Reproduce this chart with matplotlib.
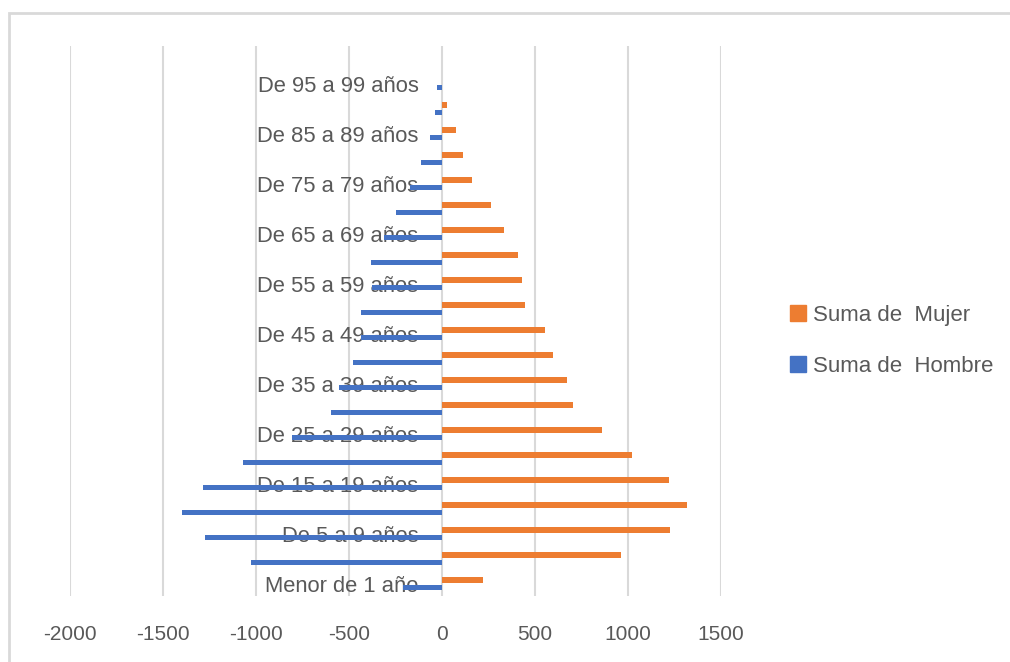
import matplotlib.pyplot as plt
import matplotlib.patches as mpatches
import numpy as np

# age groups, bottom to top (pivot table order)
grupos = ["Menor de 1 año", "De 1 a 4 años", "De 5 a 9 años", "De 10 a 14 años",
          "De 15 a 19 años", "De 20 a 24 años", "De 25 a 29 años", "De 30 a 34 años",
          "De 35 a 39 años", "De 40 a 44 años", "De 45 a 49 años", "De 50 a 54 años",
          "De 55 a 59 años", "De 60 a 64 años", "De 65 a 69 años", "De 70 a 74 años",
          "De 75 a 79 años", "De 80 a 84 años", "De 85 a 89 años", "De 90 a 94 años",
          "De 95 a 99 años", "(en blanco)"]
mujer = [219, 960, 1224, 1318, 1218, 1020, 860, 706, 674, 599, 556,
         445, 430, 411, 333, 264, 162, 112, 76, 27, 0, 0]
hombre = [209, 1029, 1274, 1396, 1287, 1072, 808, 599, 554, 479, 435,
          438, 375, 384, 312, 245, 170, 112, 62, 35, 25, 0]
x_ticks = [-2000, -1500, -1000, -500, 0, 500, 1000, 1500]

c_mujer = "#ED7D31"
c_hombre = "#4472C4"
gris = "#595959"
plt.rcParams['font.family'] = ['Liberation Sans', 'DejaVu Sans']

fig = plt.figure(figsize=(10.1, 6.62), dpi=100)
ax = fig.add_axes([70 / 1010, 1 - 596 / 662, (721 - 70) / 1010, 550 / 662])

# category labels sit next to the zero line, like Excel does
ax.spines['left'].set_position(('data', 0))
for s in ax.spines.values():
    s.set_visible(False)

y = np.arange(len(grupos))
h = 0.23
ax.barh(y + 0.155, mujer, height=h, color=c_mujer, zorder=2)
ax.barh(y - 0.155, -np.array(hombre), height=h, color=c_hombre, zorder=2)

ax.set_xlim(-2000, 1500)
ax.set_ylim(-0.5, len(grupos) - 0.5)
ax.set_xticks(x_ticks)
ax.set_xticklabels([str(v) for v in x_ticks], fontsize=15, color=gris)
ax.set_yticks(y[::2][:11])
ax.set_yticklabels(grupos[::2][:11], fontsize=15.8, color=gris)

ax.tick_params(axis='both', length=0)
ax.tick_params(axis='y', pad=17)
ax.tick_params(axis='x', pad=21)
ax.grid(axis='x', color="#d9d9d9", linewidth=1.5, zorder=0)
ax.set_axisbelow(True)

# chart border (only top and left visible in the crop)
fig.add_artist(mpatches.Rectangle((9 / 1010, -0.1), 1.2, 1.1 - 13 / 662,
                                  transform=fig.transFigure, fill=False,
                                  edgecolor="#d9d9d9", linewidth=2))

hdl = [mpatches.Patch(color=c_mujer), mpatches.Patch(color=c_hombre)]
fig.legend(hdl, ["Suma de  Mujer", "Suma de  Hombre"], loc="center left",
           bbox_to_anchor=(770 / 1010, 1 - 341 / 662), frameon=False,
           handlelength=0.7, handleheight=0.7, handletextpad=0.35,
           labelspacing=1.35, prop={"size": 16}, labelcolor=gris)

fig.savefig("out.png", dpi=100)
